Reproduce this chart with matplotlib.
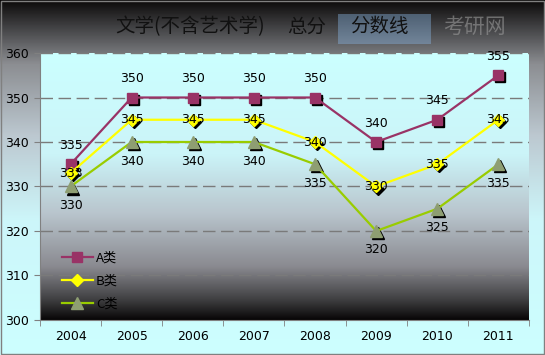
import matplotlib.pyplot as plt
import matplotlib.transforms as mtransforms
from matplotlib.colors import LinearSegmentedColormap
import numpy as np

plt.rcParams['font.family'] = ['Noto Sans CJK SC', 'DejaVu Sans']

years = ['2004', '2005', '2006', '2007', '2008', '2009', '2010', '2011']
a_scores = [335, 350, 350, 350, 350, 340, 345, 355]
b_scores = [333, 345, 345, 345, 340, 330, 335, 345]
c_scores = [330, 340, 340, 340, 335, 320, 325, 335]
y_ticks = [300, 310, 320, 330, 340, 350, 360]
title_parts = ['文学(不含艺术学)', '总分', '分数线']


def gradient_cmap(stops):
    return LinearSegmentedColormap.from_list('g', stops)


fig = plt.figure(figsize=(5.45, 3.55), dpi=100)

# figure background: dark on top, light cyan at the bottom
bg = fig.add_axes([0, 0, 1, 1], zorder=-5)
bg_cmap = gradient_cmap([(0.0, '#0c0a0a'), (0.07, '#3e3e40'), (0.18, '#8c8e92'),
                         (0.38, '#bcc8d0'), (0.62, '#cdf6fa'), (1.0, '#ccffff')])
bg.imshow(np.linspace(0, 1, 256).reshape(-1, 1), aspect='auto', cmap=bg_cmap,
          extent=[0, 1, 0, 1], origin='upper')
bg.set_xlim(0, 1)
bg.set_ylim(0, 1)
bg.axis('off')
bg.add_patch(plt.Rectangle((0.001, 0.002), 0.997, 0.996, fill=False,
                           edgecolor='#808080', linewidth=1.0))
# faint watermark block behind the title
bg.add_patch(plt.Rectangle((0.62, 0.875), 0.17, 0.085, facecolor='#8ab8e6',
                           edgecolor='none', alpha=0.4))

ax = fig.add_axes([0.0734, 0.0986, 0.8972, 0.7521])
x = np.arange(len(years))

# plot area gradient: light cyan on top, black at the bottom
pa_cmap = gradient_cmap([(0.0, '#ccffff'), (0.38, '#cbf4f8'), (0.6, '#b9c5cd'),
                         (0.8, '#8a8a90'), (0.93, '#3c3c3e'), (1.0, '#080606')])
ax.imshow(np.linspace(0, 1, 256).reshape(-1, 1), aspect='auto', cmap=pa_cmap,
          extent=[-0.5, 7.5, 300, 360], origin='upper', zorder=0)

ax.set_xlim(-0.5, 7.5)
ax.set_ylim(300, 360)
ax.set_yticks(y_ticks)
ax.set_xticks(x)
ax.set_xticklabels(years)
ax.set_xticks(np.arange(-0.5, 8.0, 1.0), minor=True)
ax.tick_params(axis='x', which='major', length=0, pad=7, labelsize=9)
ax.tick_params(axis='x', which='minor', length=4, color='#808080', direction='out')
ax.tick_params(axis='y', length=4, color='#808080', direction='out', labelsize=9, pad=4)
for t in ax.get_xticklabels() + ax.get_yticklabels():
    t.set_family('DejaVu Sans')

for s in ['top', 'right']:
    ax.spines[s].set_visible(False)
for s in ['left', 'bottom']:
    ax.spines[s].set_color('#808080')

for yv in y_ticks[1:]:
    ax.axhline(yv, color='#7a7a7a', linewidth=1.0, dashes=(9, 4), zorder=1)

shadow = mtransforms.offset_copy(ax.transData, fig=fig, x=1.5, y=-1.5, units='points')

series = [
    (a_scores, '#993366', 's', 7, '#993366', 'A类', 9, 'bottom'),
    (b_scores, '#ffff00', 'D', 6, '#ffff00', 'B类', 0, 'center'),
    (c_scores, '#99cc00', '^', 8, '#8e9e72', 'C类', -9, 'top'),
]

for vals, col, mk, ms, mfc, lab, off, va in series:
    ax.plot(x, vals, color=col, linewidth=1.6, zorder=3, label=lab,
            marker=mk, markersize=ms, markerfacecolor=mfc, markeredgecolor=mfc)
    ax.plot(x, vals, linestyle='none', marker=mk, markersize=ms, color='black',
            transform=shadow, zorder=2.9)
    for xi, v in zip(x, vals):
        ax.annotate(str(v), (xi, v), xytext=(0, off), textcoords='offset points',
                    ha='center', va=va, fontsize=9, family='DejaVu Sans',
                    color='black', zorder=5)

leg = ax.legend(loc='lower left', bbox_to_anchor=(0.02, -0.008), frameon=False,
                fontsize=9.5, handlelength=2.4, handletextpad=0.2, labelspacing=0.75)
for t in leg.get_texts():
    t.set_color('black')

fig.text(0.87, 0.924, '考研网', fontsize=15, color='#9a9a9a', alpha=0.6,
         ha='center', va='center')

# title in three parts
fig.text(0.349, 0.924, title_parts[0], fontsize=14, ha='center', va='center', color='#111111')
fig.text(0.563, 0.924, title_parts[1], fontsize=14, ha='center', va='center', color='#111111')
fig.text(0.697, 0.924, title_parts[2], fontsize=14, ha='center', va='center', color='#111111')

fig.savefig('out.png', dpi=100)
